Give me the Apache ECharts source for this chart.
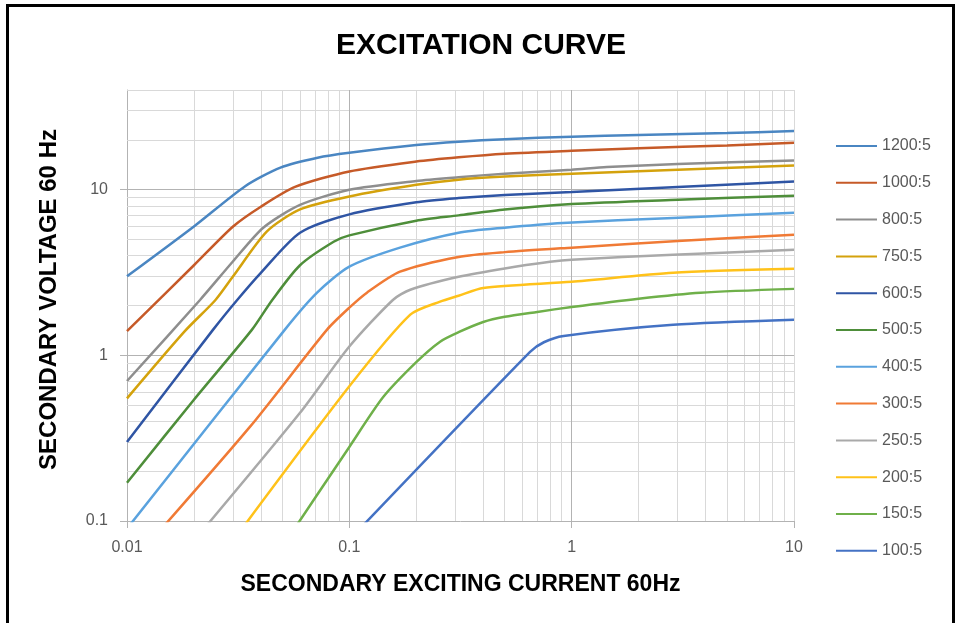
<!DOCTYPE html>
<html>
<head>
<meta charset="utf-8">
<script src="https://cdn.jsdelivr.net/npm/echarts@6/dist/echarts.min.js"></script>
<style>
  html, body { margin: 0; padding: 0; background: #fff; }
  #chart { width: 962px; height: 623px; }
</style>
</head>
<body>
<div id="chart"></div>
<script>
// ---- data (current A, voltage V) ----
const seriesNames = ['1200:5','1000:5','800:5','750:5','600:5','500:5','400:5','300:5','250:5','200:5','150:5','100:5'];
const seriesColors = ['#4A86C2','#C65A28','#8E8E8E','#D4A20C','#2F55A4','#4E8E3A','#5AA2DE','#F07A35','#A9A9A9','#FFC21A','#6FB04A','#4472C4'];

const s1200 = [[0.01,3.0],[0.02,6.0],[0.034,10.5],[0.049,13.6],[0.072,15.6],[0.1,16.7],[0.2,18.6],[0.31,19.5],[0.5,20.2],[1,20.9],[2,21.4],[5,22.0],[10,22.6]];
const s1000 = [[0.01,1.4],[0.02,3.5],[0.03,6.0],[0.04,7.9],[0.057,10.4],[0.1,12.9],[0.2,14.8],[0.31,15.7],[0.5,16.5],[1,17.2],[2,17.8],[5,18.5],[10,19.2]];
const s800  = [[0.01,0.70],[0.0213,2.16],[0.03,3.7],[0.041,5.9],[0.06,8.1],[0.1,10.0],[0.2,11.3],[0.31,11.9],[0.5,12.5],[1,13.2],[1.44,13.7],[3,14.3],[10,15.0]];
const s750  = [[0.01,0.55],[0.0182,1.4],[0.025,2.16],[0.03,3.0],[0.0426,5.6],[0.06,7.6],[0.1,9.1],[0.2,10.7],[0.31,11.5],[0.5,12.0],[1,12.5],[3,13.2],[10,14.0]];
const s600  = [[0.01,0.30],[0.0244,1.43],[0.0313,2.16],[0.04,3.15],[0.06,5.5],[0.1,7.1],[0.2,8.4],[0.31,8.9],[0.5,9.3],[1,9.7],[3,10.4],[10,11.2]];
const s500  = [[0.01,0.17],[0.02,0.54],[0.0365,1.43],[0.045,2.16],[0.06,3.5],[0.085,4.85],[0.1,5.3],[0.2,6.5],[0.31,7.0],[0.5,7.6],[1,8.2],[3,8.7],[10,9.2]];
const s400  = [[0.01,0.09],[0.0513,1.43],[0.0716,2.39],[0.1,3.43],[0.169,4.47],[0.31,5.5],[0.5,5.9],[0.91,6.3],[2.86,6.76],[10,7.26]];
const s300  = [[0.01,0.052],[0.0357,0.37],[0.0794,1.43],[0.1,1.94],[0.12,2.39],[0.169,3.2],[0.31,3.93],[0.5,4.2],[1,4.47],[3,4.9],[10,5.35]];
const s250  = [[0.02,0.076],[0.06,0.45],[0.1,1.13],[0.157,2.16],[0.188,2.49],[0.31,2.98],[0.5,3.35],[0.8,3.67],[1,3.78],[2.86,4.05],[10,4.34]];
const s200  = [[0.03,0.076],[0.1,0.65],[0.188,1.76],[0.256,2.11],[0.31,2.29],[0.4,2.55],[1,2.78],[2.86,3.15],[10,3.33]];
const s150  = [[0.05,0.07],[0.1,0.28],[0.142,0.56],[0.2,0.91],[0.256,1.21],[0.31,1.38],[0.4,1.59],[0.5,1.71],[0.7,1.83],[1,1.96],[2,2.2],[3.8,2.39],[10,2.52]];
const s100  = [[0.1,0.077],[0.65,1.05],[0.75,1.2],[0.92,1.31],[2.86,1.53],[10,1.64]];
const seriesData = [s1200,s1000,s800,s750,s600,s500,s400,s300,s250,s200,s150,s100];

// ---- gridline / tick values ----
const xMajorGrid = [0.1, 1];
const xMinorGrid = [0.02,0.03,0.04,0.05,0.06,0.07,0.08,0.09,0.2,0.3,0.4,0.5,0.6,0.7,0.8,0.9,2,3,4,5,6,7,8,9,10];
const yMajorGrid = [1, 10];
const yMinorGrid = [0.2,0.3,0.4,0.5,0.6,0.7,0.8,0.9,2,3,4,5,6,7,8,9,20,30,40];

const FONT = 'Liberation Sans';
const chart = echarts.init(document.getElementById('chart'), null, {renderer: 'canvas'});

const gridSeries = {
  name: '__grid', type: 'line', data: [], silent: true, z: 1,
  symbol: 'none', lineStyle: {opacity: 0},
  markLine: {
    silent: true, symbol: ['none','none'], animation: false, z: 1,
    label: {show: false},
    data: [].concat(
      xMinorGrid.map(v => ({xAxis: v, lineStyle: {color: '#d9d9d9', width: 1, type: 'solid'}})),
      yMinorGrid.map(v => ({yAxis: v, lineStyle: {color: '#d9d9d9', width: 1, type: 'solid'}})),
      xMajorGrid.map(v => ({xAxis: v, lineStyle: {color: '#b3b3b3', width: 1, type: 'solid'}})),
      yMajorGrid.map(v => ({yAxis: v, lineStyle: {color: '#b3b3b3', width: 1, type: 'solid'}}))
    )
  }
};

const dataSeries = seriesNames.map((n, i) => ({
  name: n, type: 'line', data: seriesData[i], z: 10,
  symbol: 'none', smooth: 0.25, clip: true,
  lineStyle: {color: seriesColors[i], width: 2.5},
  itemStyle: {color: seriesColors[i]}
}));

chart.setOption({
  animation: false,
  backgroundColor: '#fff',
  title: {
    text: 'EXCITATION CURVE', left: 'center', top: 26,
    textStyle: {fontFamily: FONT, fontSize: 30, fontWeight: 'bold', color: '#000'}
  },
  legend: {
    data: seriesNames, orient: 'vertical', left: 831, top: 132,
    itemWidth: 41, itemHeight: 14, itemGap: 18.8,
    textStyle: {fontFamily: FONT, fontSize: 16, color: '#595959', lineHeight: 18},
    icon: 'path://M0,6 L41,6 L41,8 L0,8 Z'
  },
  grid: {left: 127, right: 168, top: 90, bottom: 102, containLabel: false},
  xAxis: {
    type: 'log', logBase: 10, min: 0.01, max: 10,
    name: 'SECONDARY EXCITING CURRENT 60Hz', nameLocation: 'middle', nameGap: 52,
    nameTextStyle: {fontFamily: FONT, fontSize: 23, fontWeight: 'bold', color: '#000'},
    axisLine: {show: true, lineStyle: {color: '#b3b3b3', width: 1}},
    axisTick: {show: true, length: 7, lineStyle: {color: '#b3b3b3'}},
    axisLabel: {fontFamily: FONT, fontSize: 16, color: '#595959', margin: 19},
    splitLine: {show: false}
  },
  yAxis: {
    type: 'log', logBase: 10, min: 0.1, max: 40,
    name: 'SECONDARY VOLTAGE 60 Hz', nameLocation: 'middle', nameGap: 66,
    nameTextStyle: {fontFamily: FONT, fontSize: 24, fontWeight: 'bold', color: '#000', padding: [0, 0, 0, 12]},
    axisLine: {show: true, lineStyle: {color: '#b3b3b3', width: 1}},
    axisTick: {show: true, length: 7, lineStyle: {color: '#b3b3b3'}},
    axisLabel: {fontFamily: FONT, fontSize: 16, color: '#595959', margin: 19, showMaxLabel: false},
    splitLine: {show: false}
  },
  graphic: [{
    type: 'rect', silent: true, z: 100,
    shape: {x: 7.5, y: 5.5, width: 946, height: 640},
    style: {fill: null, stroke: '#000', lineWidth: 3}
  }],
  series: [gridSeries].concat(dataSeries)
});
</script>
</body>
</html>
